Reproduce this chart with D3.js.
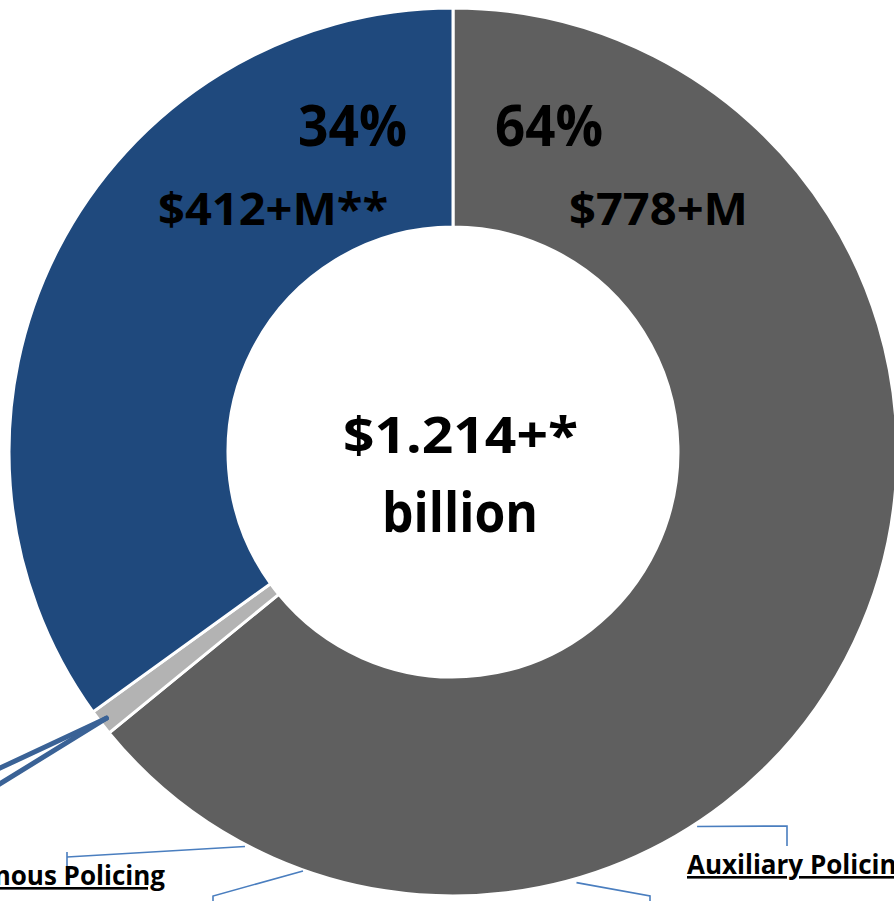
<!DOCTYPE html>
<html>
<head>
<meta charset="utf-8">
<script src="https://cdn.jsdelivr.net/npm/d3@7"></script>
<style>
  html, body { margin: 0; padding: 0; background: #ffffff; }
  svg { display: block; }
  text { font-family: "Open Sans", Lato, sans-serif; font-weight: bold; fill: #000; }
</style>
</head>
<body>
<svg id="chart" width="894" height="901"></svg>
<script>
// ---- data (shares) ----
const categories = ["Auxiliary Policing", "Other", "Autonomous Policing"];
const shares = [64.1, 0.95, 34.95];
const colors = ["#5f5f5f", "#b3b3b3", "#1f497d"];
const pctLabels = ["64%", "", "34%"];
const amountLabels = ["$778+M", "", "$412+M**"];
const totalLabel = ["$1.214+*", "billion"];
const calloutLabels = ["Autonomous Policing", "Auxiliary Policing"];

// ---- layout ----
const W = 894, H = 901;
const cx = 453, cy = 452, R = 444, r0 = 225;
const svg = d3.select("#chart");
const g = svg.append("g").attr("transform", `translate(${cx},${cy})`);

const pie = d3.pie().sort(null).value(d => d.v).startAngle(0).endAngle(2 * Math.PI);
const arcs = pie(categories.map((c, i) => ({ c, v: shares[i], i })));
const arc = d3.arc().innerRadius(r0).outerRadius(R);

g.selectAll("path.slice").data(arcs).join("path")
  .attr("class", "slice")
  .attr("d", arc)
  .attr("fill", d => colors[d.data.i])
  .attr("stroke", "#ffffff")
  .attr("stroke-width", 3);

// leader lines (polar anchor on ring edge -> path in page coords)
const polar = (deg, rad) => [cx + rad * Math.sin(deg * Math.PI / 180), cy - rad * Math.cos(deg * Math.PI / 180)];
const thin = "#4a7ebf";
const leaders = [
  [polar(207.8, 446), [67, 857]],
  [[67, 852], [67, 870]],
  [polar(199.7, 445), [213, 896], [213, 905]],
  [polar(164, 448), [650, 896], [650, 905]],
  [polar(146.9, 447), [787, 826], [787, 846]]
];
const line = d3.line();
svg.selectAll("path.leader").data(leaders).join("path")
  .attr("class", "leader")
  .attr("d", d => line(d))
  .attr("fill", "none")
  .attr("stroke", thin)
  .attr("stroke-width", 1.6);

// thick callout lines from the small slice
const smallMid = (arcs[1].startAngle + arcs[1].endAngle) / 2 * 180 / Math.PI;
const p0 = polar(smallMid, 437);
const thick = [[p0, [-2, 769]], [p0, [-2, 785]]];
svg.selectAll("path.thick").data(thick).join("path")
  .attr("class", "thick")
  .attr("d", d => line(d))
  .attr("fill", "none")
  .attr("stroke", "#3a6296")
  .attr("stroke-width", 5)
  .attr("stroke-linecap", "round");

function label(x, y, anchor, size, txt, len) {
  const t = svg.append("text").attr("x", x).attr("y", y).attr("text-anchor", anchor)
    .attr("font-size", size).text(txt);
  if (len) t.attr("textLength", len).attr("lengthAdjust", "spacingAndGlyphs");
  return t;
}

// slice labels
label(407, 146, "end", 57, pctLabels[2], 109);
label(495, 146, "start", 57, pctLabels[0], 108);
label(388, 225, "end", 45, amountLabels[2], 230);
label(569, 225, "start", 45, amountLabels[0], 179);

// centre total
label(460.5, 453, "middle", 50, totalLabel[0], 235);
label(460, 532, "middle", 56, totalLabel[1], 156);

// callout labels (underlined)
label(165, 885, "end", 26, calloutLabels[0]).style("text-decoration", "underline");
label(687, 874, "start", 26, calloutLabels[1]).style("text-decoration", "underline");
</script>
</body>
</html>
